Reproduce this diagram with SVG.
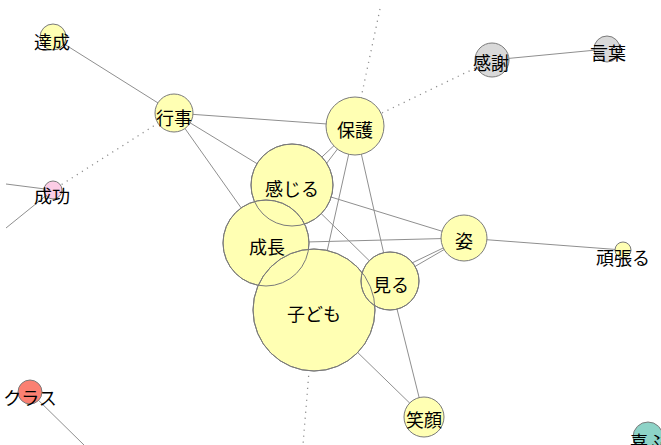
<svg xmlns="http://www.w3.org/2000/svg" width="661" height="445" viewBox="0 0 661 445">
<style>
.e{stroke:#8f8f8f;stroke-width:1;fill:none}
.d{stroke:#8f8f8f;stroke-width:1.3;fill:none;stroke-dasharray:1.2 4.8}
.n{stroke:#7a7a7a;stroke-width:1}
.o{stroke:#7a7a7a;stroke-width:1;fill:none}
.y{fill:#FFFFB3}.g{fill:#D9D9D9}.p{fill:#FCCDE5}.r{fill:#FB8072}.t{fill:#8DD3C7}
text{font-family:"Noto Sans CJK JP","Noto Sans",sans-serif;font-size:18px;fill:#000;text-anchor:middle;dominant-baseline:central}
</style>
<rect width="661" height="445" fill="#fff"/>
<g id="connectors">
<line class="e" x1="53" y1="37" x2="174" y2="113"/>
<line class="e" x1="492" y1="60" x2="607" y2="49"/>
<line class="e" x1="174" y1="113" x2="355" y2="126"/>
<line class="e" x1="174" y1="113" x2="292" y2="185"/>
<line class="e" x1="174" y1="113" x2="266" y2="243"/>
<line class="e" x1="355" y1="126" x2="292" y2="185"/>
<line class="e" x1="355" y1="126" x2="266" y2="243"/>
<line class="e" x1="355" y1="126" x2="314" y2="310"/>
<line class="e" x1="355" y1="126" x2="390" y2="281"/>
<line class="e" x1="292" y1="185" x2="464" y2="238"/>
<line class="e" x1="292" y1="185" x2="390" y2="281"/>
<line class="e" x1="266" y1="243" x2="464" y2="238"/>
<line class="e" x1="464" y1="238" x2="390" y2="281"/>
<line class="e" x1="464" y1="238" x2="314" y2="310"/>
<line class="e" x1="464" y1="238" x2="623" y2="250"/>
<line class="e" x1="390" y1="281" x2="424" y2="417"/>
<line class="e" x1="314" y1="310" x2="424" y2="417"/>
<line class="e" x1="292" y1="185" x2="266" y2="243"/>
<line class="e" x1="266" y1="243" x2="314" y2="310"/>
<line class="e" x1="314" y1="310" x2="390" y2="281"/>
<line class="e" x1="6" y1="184" x2="53" y2="190"/>
<line class="e" x1="6" y1="228" x2="53" y2="190"/>
<line class="e" x1="30" y1="392" x2="84" y2="445"/>
<line class="d" x1="174" y1="113" x2="53" y2="190"/>
<line class="d" x1="355" y1="126" x2="492" y2="60"/>
<line class="d" x1="380" y1="9" x2="355" y2="126"/>
<line class="d" x1="314" y1="310" x2="303" y2="445"/>
</g>
<g id="node-tassei"><circle class="n y" cx="53" cy="37" r="13"/><text x="52" y="41">達成</text></g>
<g id="node-gyouji"><circle class="n y" cx="174" cy="113" r="19"/><text x="174" y="117">行事</text></g>
<g id="node-kansha"><circle class="n g" cx="492" cy="60" r="17"/><text x="491" y="62">感謝</text></g>
<g id="node-kotoba"><circle class="n g" cx="607" cy="49" r="13"/><text x="608" y="52">言葉</text></g>
<g id="node-hogo"><circle class="n y" cx="355" cy="126" r="29"/><text x="355" y="129">保護</text></g>
<g id="node-kanjiru"><circle class="n y" cx="292" cy="185" r="41"/></g>
<g id="node-seichou"><circle class="n y" cx="266" cy="243" r="43"/></g>
<g id="node-kodomo"><circle class="n y" cx="314" cy="310" r="61"/></g>
<g id="node-miru"><circle class="n y" cx="390" cy="281" r="29"/></g>
<g id="node-sugata"><circle class="n y" cx="464" cy="238" r="23"/><text x="464" y="240">姿</text></g>
<g id="node-ganbaru"><circle class="n y" cx="623" cy="250" r="8"/><text x="623" y="257">頑張る</text></g>
<g id="node-egao"><circle class="n y" cx="424" cy="417" r="20"/><text x="424" y="419">笑顔</text></g>
<g id="node-yorokobu"><circle class="n t" cx="648" cy="437" r="15"/><text x="648" y="441">喜ぶ</text></g>
<g id="node-seikou"><circle class="n p" cx="53" cy="190" r="9"/><text x="52" y="195">成功</text></g>
<g id="node-class"><circle class="n r" cx="30" cy="392" r="12"/><text x="30" y="397">クラス</text></g>
<g id="node-outlines">
<circle class="o" cx="292" cy="185" r="41"/>
<circle class="o" cx="266" cy="243" r="43"/>
<circle class="o" cx="314" cy="310" r="61"/>
<circle class="o" cx="390" cy="281" r="29"/>
</g>
<g id="node-labels">
<text x="292" y="188">感じる</text>
<text x="267" y="246">成長</text>
<text x="314" y="313">子ども</text>
<text x="391" y="284">見る</text>
</g>
</svg>
